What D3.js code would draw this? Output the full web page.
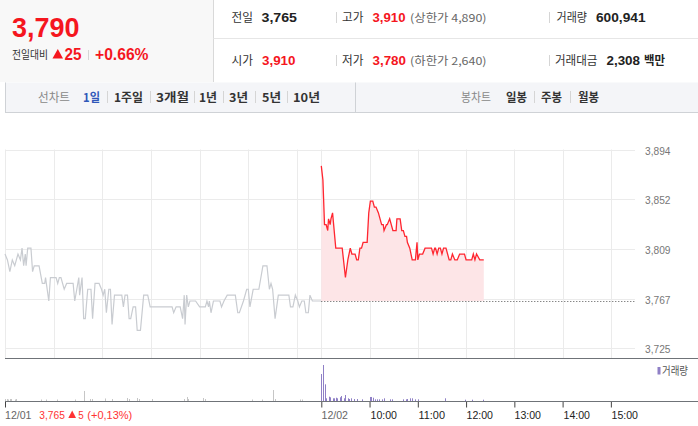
<!DOCTYPE html>
<html><head><meta charset="utf-8">
<script src="https://cdn.jsdelivr.net/npm/d3@7/dist/d3.min.js"></script>
<style>body{margin:0;background:#fff;}svg{display:block;}</style>
</head><body><svg id="c" width="698" height="426"></svg>
<script>
// ---------- data ----------
const prevMinutes = [0,3,6,9,12,14,16,19,21,23,25,26,28,32,34,36,42,46,49,50,54,56,63,65,67,69,73,76,84,86,91,92,95,97,99,102,106,108,111,116,119,121,123,125,128,130,132,135,144,146,148,151,153,155,158,161,163,167,171,176,179,206,208,211,216,219,221,222,224,226,228,235,240,247,249,251,252,254,257,265,267,270,274,284,287,289,294,298,300,302,306,313,318,323,326,328,330,333,337,350,352,355,358,361,363,366,369,371,374,376,379,390];
const prevPrices = [3805,3800,3790,3800,3795,3800,3805,3800,3810,3795,3805,3795,3810,3810,3790,3795,3795,3780,3780,3785,3765,3785,3785,3780,3785,3785,3775,3780,3780,3765,3785,3770,3785,3750,3750,3775,3775,3750,3780,3780,3775,3770,3775,3755,3775,3775,3745,3770,3770,3760,3770,3770,3750,3750,3760,3760,3740,3740,3770,3770,3760,3760,3755,3760,3760,3750,3770,3745,3770,3760,3765,3765,3760,3760,3765,3760,3765,3755,3765,3765,3760,3765,3770,3770,3755,3755,3765,3775,3775,3760,3775,3775,3795,3795,3775,3780,3775,3750,3770,3770,3760,3760,3770,3765,3760,3765,3765,3755,3755,3770,3765,3765];
const todayMinutes = [0,2,4,6,8,9,11,12,14,18,26,30,33,36,38,42,44,46,48,50,52,57,59,61,64,66,68,71,75,77,78,81,82,85,87,89,93,94,98,100,102,104,106,107,110,113,117,119,120,122,126,129,137,139,141,142,144,146,148,150,152,155,157,159,161,163,166,169,172,178,180,187,189,191,193,197,202];
const todayPrices = [3880,3868,3830,3830,3825,3835,3830,3835,3840,3810,3810,3785,3800,3810,3805,3805,3800,3800,3810,3810,3815,3815,3840,3850,3850,3845,3845,3840,3830,3830,3825,3830,3830,3835,3830,3825,3825,3835,3835,3825,3825,3820,3820,3815,3810,3800,3800,3815,3800,3805,3805,3810,3810,3805,3810,3810,3805,3810,3810,3805,3810,3810,3805,3800,3800,3805,3800,3800,3805,3805,3800,3800,3805,3800,3805,3800,3800];
const prevClose = 3765;
const prevVolMinutes = [0,2,4,6,8,12,14,45,51,64,86,97,105,107,123,132,150,153,163,165,181,221,224,226,244,246,305,317,331,333,364,366];
const prevVolumes = [3300,3300,2500,3300,3300,2500,3300,2500,2500,2500,2500,16700,3300,3300,4200,3300,5000,3300,5000,3300,3300,3300,6700,3300,5000,3300,2500,2500,18300,3300,2500,2500];
const todayVolMinutes = [0,2,4,6,9,11,14,16,18,20,23,25,28,30,33,35,37,41,45,50,60,62,64,67,69,72,75,78,85,88,102,105,107,110,113,116,120,154,179,187,201];
const todayVolumes = [45000,60000,27800,4500,7200,6200,4500,4500,5500,4500,6200,8300,4500,10000,4500,3300,4500,3300,3300,2800,6700,6700,5500,2800,2800,2800,2800,4500,2800,2800,2800,2800,3300,4500,4500,2800,2800,4500,2200,2200,2200];
const yTickValues = [3725,3767,3809,3852,3894];
const yTickLabels = ["3,725","3,767","3,809","3,852","3,894"];
const gridMinutes = [0,60,120,180,240,300,360];
const timeTickMinutes = [0,60,120,180,240,300,360];
const timeTickLabels = ["12/02","10:00","11:00","12:00","13:00","14:00","15:00"];
const prevDayLabel = "12/01";
const prevDayInfo = ["3,765","5","(+0,13%)"];
const periodButtons = ["1일","1주일","3개월","1년","3년","5년","10년"];
const candleButtons = ["일봉","주봉","월봉"];

// ---------- setup ----------
const svg = d3.select('#c');
const NF = "'Liberation Sans', Arial, 'Noto Sans CJK KR', sans-serif";
const KF = "'Noto Sans CJK KR', 'Liberation Sans', sans-serif";
function T(g, x, y, s, o = {}) {
  const t = g.append('text').attr('x', x).attr('y', y).text(s)
    .attr('font-family', o.ff || NF).attr('font-size', o.fs || 12)
    .attr('fill', o.fill || '#333').attr('font-weight', o.fw || 'normal');
  if (o.w) t.attr('textLength', o.w).attr('lengthAdjust', 'spacingAndGlyphs');
  if (o.anchor) t.attr('text-anchor', o.anchor);
  return t;
}
function sep(g, x, y1, y2) {
  g.append('line').attr('x1', x).attr('x2', x).attr('y1', y1).attr('y2', y2)
    .attr('stroke', '#d5d5d5').attr('stroke-width', 1);
}
const RED = '#f5161e';

// ---------- header ----------
const h = svg.append('g');
h.append('rect').attr('x', 0).attr('y', 0).attr('width', 213.5).attr('height', 82).attr('fill', '#f8f8f8');
h.append('line').attr('x1', 213.5).attr('x2', 213.5).attr('y1', 0).attr('y2', 82).attr('stroke', '#d9d9d9');
h.append('line').attr('x1', 213.5).attr('x2', 698).attr('y1', 38.5).attr('y2', 38.5).attr('stroke', '#e6e6e6');
T(h, 12, 37, "3,790", {fs: 28, fw: 'bold', fill: RED, w: 67.5});
T(h, 12, 58.5, "전일대비", {ff: KF, fs: 11, fill: '#333', w: 36});
h.append('path').attr('d', 'M52.5,58.5 L57.8,49 L63,58.5 Z').attr('fill', RED);
T(h, 64.5, 60, "25", {fs: 16, fw: 'bold', fill: RED, w: 17});
sep(h, 88.5, 50, 60);
T(h, 95, 60, "+0.66%", {fs: 16, fw: 'bold', fill: RED, w: 53.5});

// row 1
T(h, 231.5, 22, "전일", {ff: KF, fs: 12, fill: '#333', w: 21.5});
T(h, 261.5, 22, "3,765", {fs: 13, fw: 'bold', fill: '#222', w: 35.5});
sep(h, 336.5, 12, 23);
T(h, 342, 22, "고가", {ff: KF, fs: 12, fill: '#333', w: 21.5});
T(h, 372.5, 22, "3,910", {fs: 13, fw: 'bold', fill: RED, w: 33});
T(h, 410, 22, "(상한가 4,890)", {ff: KF, fs: 11, fill: '#666', w: 76.5});
sep(h, 549.5, 12, 23);
T(h, 556.5, 22, "거래량", {ff: KF, fs: 12, fill: '#333', w: 30.5});
T(h, 596, 22, "600,941", {fs: 13, fw: 'bold', fill: '#222', w: 49.5});
// row 2
T(h, 231.5, 65, "시가", {ff: KF, fs: 12, fill: '#333', w: 21.5});
T(h, 262, 65, "3,910", {fs: 13, fw: 'bold', fill: RED, w: 33.5});
sep(h, 336.5, 55, 66);
T(h, 342, 65, "저가", {ff: KF, fs: 12, fill: '#333', w: 21.5});
T(h, 372.5, 65, "3,780", {fs: 13, fw: 'bold', fill: RED, w: 33.5});
T(h, 410, 65, "(하한가 2,640)", {ff: KF, fs: 11, fill: '#666', w: 76.5});
sep(h, 549.5, 55, 66);
T(h, 555, 65, "거래대금", {ff: KF, fs: 12, fill: '#333', w: 42.5});
T(h, 606.5, 65, "2,308", {fs: 13, fw: 'bold', fill: '#222', w: 33.5});
T(h, 644, 65, "백만", {ff: KF, fs: 12, fw: 'bold', fill: '#222', w: 21});

// ---------- toolbar ----------
const tb = svg.append('g');
tb.append('rect').attr('x', 5).attr('y', 82.5).attr('width', 693).attr('height', 30).attr('fill', '#f4f5f8');
tb.append('line').attr('x1', 5).attr('x2', 698).attr('y1', 112.5).attr('y2', 112.5).attr('stroke', '#cfd2d6');
tb.append('line').attr('x1', 5.5).attr('x2', 5.5).attr('y1', 82.5).attr('y2', 112.5).attr('stroke', '#cfd2d6');
tb.append('line').attr('x1', 355.5).attr('x2', 355.5).attr('y1', 82.5).attr('y2', 112.5).attr('stroke', '#cfd2d6');
T(tb, 38, 102, "선차트", {ff: KF, fs: 12, fill: '#888', w: 32});
const periodX = [83, 114, 156, 199, 229, 262, 293];
const periodW = [17, 29, 33, 18, 19, 19, 27];
periodButtons.forEach((s, i) => {
  T(tb, periodX[i], 102, s, {ff: KF, fs: 12, fw: 'bold', fill: i === 0 ? '#2f57b9' : '#333', w: periodW[i]});
  if (i < periodButtons.length - 1) sep(tb, Math.round((periodX[i] + periodW[i] + periodX[i + 1]) / 2) + 0.5, 91, 103);
});
T(tb, 461, 102, "봉차트", {ff: KF, fs: 12, fill: '#888', w: 30});
const candleX = [506, 541, 578];
const candleW = [21, 21, 21];
candleButtons.forEach((s, i) => {
  T(tb, candleX[i], 102, s, {ff: KF, fs: 12, fw: 'bold', fill: '#333', w: candleW[i]});
  if (i < candleButtons.length - 1) sep(tb, Math.round((candleX[i] + candleW[i] + candleX[i + 1]) / 2) + 0.5, 91, 103);
});

// ---------- price chart ----------
const xPrev = d3.scaleLinear().domain([0, 390]).range([5, 321.3]);
const xToday = d3.scaleLinear().domain([0, 390]).range([321.3, 635]);
const y = d3.scaleLinear().domain([3725, 3894]).range([348, 149.5]);
const yv = d3.scaleLinear().domain([0, 60000]).range([401, 365]);

const grid = svg.append('g').attr('stroke', '#ebebeb').attr('stroke-width', 1);
yTickValues.forEach(v => {
  grid.append('line').attr('x1', 5).attr('x2', 635).attr('y1', Math.round(y(v)) + 0.5).attr('y2', Math.round(y(v)) + 0.5);
});
gridMinutes.forEach(m => {
  [xPrev(m), xToday(m)].forEach(xx => {
    grid.append('line').attr('x1', Math.round(xx) + 0.5).attr('x2', Math.round(xx) + 0.5).attr('y1', 149.5).attr('y2', 358);
  });
});

// y labels
yTickValues.forEach((v, i) => {
  T(svg, 645, Math.round(y(v)) + 4.5, yTickLabels[i], {fs: 11, fill: '#777', w: 25.5});
});

// previous day line
const prevData = prevMinutes.map((m, i) => [m, prevPrices[i]]);
svg.append('path').datum(prevData)
  .attr('d', d3.line().x(d => xPrev(d[0])).y(d => y(d[1])))
  .attr('fill', 'none').attr('stroke', '#c9ccd1').attr('stroke-width', 1.2);

// today area + line
const todayData = todayMinutes.map((m, i) => [m, todayPrices[i]]);
svg.append('path').datum(todayData)
  .attr('d', d3.area().x(d => xToday(d[0])).y0(y(prevClose)).y1(d => y(d[1])))
  .attr('fill', '#fde5e7');
svg.append('line').attr('x1', xToday(0)).attr('x2', 635).attr('y1', Math.round(y(prevClose)) + 0.5).attr('y2', Math.round(y(prevClose)) + 0.5)
  .attr('stroke', '#555').attr('stroke-dasharray', '1,2');
svg.append('path').datum(todayData)
  .attr('d', d3.line().x(d => xToday(d[0])).y(d => y(d[1])))
  .attr('fill', 'none').attr('stroke', '#ff2630').attr('stroke-width', 1.3);

// bottom border of price chart
svg.append('line').attr('x1', 5).attr('x2', 698).attr('y1', 358.5).attr('y2', 358.5).attr('stroke', '#6f7378');

// ---------- volume ----------
const vg = svg.append('g');
prevVolMinutes.forEach((m, i) => {
  vg.append('rect').attr('x', Math.round(xPrev(m))).attr('y', yv(prevVolumes[i]))
    .attr('width', 1).attr('height', 401 - yv(prevVolumes[i])).attr('fill', '#c6c6c6');
});
todayVolMinutes.forEach((m, i) => {
  vg.append('rect').attr('x', Math.round(xToday(m))).attr('y', yv(todayVolumes[i]))
    .attr('width', 1).attr('height', 401 - yv(todayVolumes[i])).attr('fill', '#8f80c6');
});
svg.append('rect').attr('x', 657.5).attr('y', 367).attr('width', 3).attr('height', 7.5).attr('fill', '#8f80c6');
T(svg, 662, 374.5, "거래량", {ff: KF, fs: 11, fill: '#555', w: 26});

// axis
const axis = d3.axisBottom(xToday).tickValues(timeTickMinutes).tickSize(6).tickSizeOuter(0).tickFormat('');
const ag = svg.append('g').attr('transform', 'translate(0,401.5)').call(axis);
ag.select('.domain').remove();
ag.selectAll('.tick line').attr('stroke', '#444');
svg.append('line').attr('x1', 5.5).attr('x2', 5.5).attr('y1', 401.5).attr('y2', 407.5).attr('stroke', '#444');
svg.append('line').attr('x1', 5).attr('x2', 698).attr('y1', 401.5).attr('y2', 401.5).attr('stroke', '#6f7378');

timeTickMinutes.forEach((m, i) => {
  T(svg, Math.round(xToday(m)) + 0.5, 418.5, timeTickLabels[i], {fs: 11, fill: i === 0 ? '#666' : '#222', w: 26.5});
});
T(svg, 5, 418.5, prevDayLabel, {fs: 11, fill: '#666', w: 26.5});
T(svg, 39.3, 418.5, prevDayInfo[0], {fs: 11, fill: '#f33', w: 25.5});
svg.append('path').attr('d', 'M68.3,418 L72.2,410.5 L76,418 Z').attr('fill', '#f33');
T(svg, 78.3, 418.5, prevDayInfo[1], {fs: 11, fill: '#f33', w: 5.5});
T(svg, 87.3, 418.5, prevDayInfo[2], {fs: 11, fill: '#f33', w: 45});
</script></body></html>
